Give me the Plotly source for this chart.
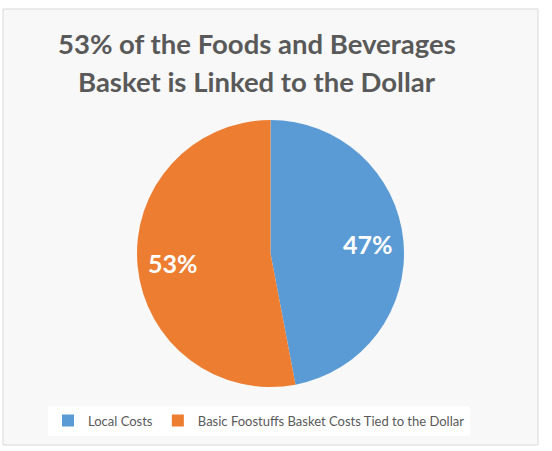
import math
import plotly.graph_objects as go

# data
labels = ["Local Costs", "Basic Foostuffs Basket Costs Tied to the Dollar"]
shares = [47, 53]
colors = ["#5B9BD5", "#ED7D31"]
title_lines = ["53% of the Foods and Beverages", "Basket is Linked to the Dollar"]

W, H = 552, 451


def px_x(x):
    return x / W


def px_y(y):
    return 1 - y / H


# pie geometry (pixels)
cx, cy, R = 270.5, 253.5, 133.5

fig = go.Figure(go.Pie(
    labels=labels,
    values=shares,
    marker=dict(colors=colors, line=dict(width=0)),
    sort=False,
    direction="clockwise",
    rotation=0,
    textinfo="none",
    domain=dict(x=[px_x(cx - R), px_x(cx + R)], y=[px_y(cy + R), px_y(cy - R)]),
    hoverinfo="label+percent",
))

# percent labels placed like Excel's best fit (about 0.73 R from centre)
total = sum(shares)
start = 0.0
for v in shares:
    mid = (start + v / 2) / total * 2 * math.pi
    start += v
    lx = cx + 0.73 * R * math.sin(mid)
    ly = cy - 0.73 * R * math.cos(mid)
    fig.add_annotation(text=f"{round(v / total * 100)}%", xref="paper", yref="paper",
                       x=px_x(lx), y=px_y(ly), xanchor="center", yanchor="middle",
                       showarrow=False,
                       font=dict(family="Lato", size=25, color="white", weight="bold"))

# chart area box
fig.add_shape(type="rect", xref="paper", yref="paper",
              x0=px_x(3), x1=px_x(538), y0=px_y(445), y1=px_y(9),
              fillcolor="#f8f8f8", line=dict(color="#d9d9d9", width=1),
              layer="below")

for txt, yc in zip(title_lines, [44, 81.5]):
    fig.add_annotation(text=txt, xref="paper", yref="paper",
                       x=px_x(256.5), y=px_y(yc), xanchor="center", yanchor="middle",
                       showarrow=False,
                       font=dict(family="Lato", size=27.5, color="#595959", weight="bold"))

fig.update_layout(
    width=W, height=H,
    margin=dict(l=0, r=0, t=0, b=0),
    paper_bgcolor="white",
    showlegend=True,
    legend=dict(
        orientation="h",
        x=px_x(259), y=px_y(420.5), xanchor="center", yanchor="middle",
        bgcolor="white",
        font=dict(family="Lato", size=13, color="#595959"),
        itemclick=False,
        itemwidth=30,
    ),
)

fig.write_html("out.html", config={"displayModeBar": False},
               post_script="document.body.style.margin='0';")
